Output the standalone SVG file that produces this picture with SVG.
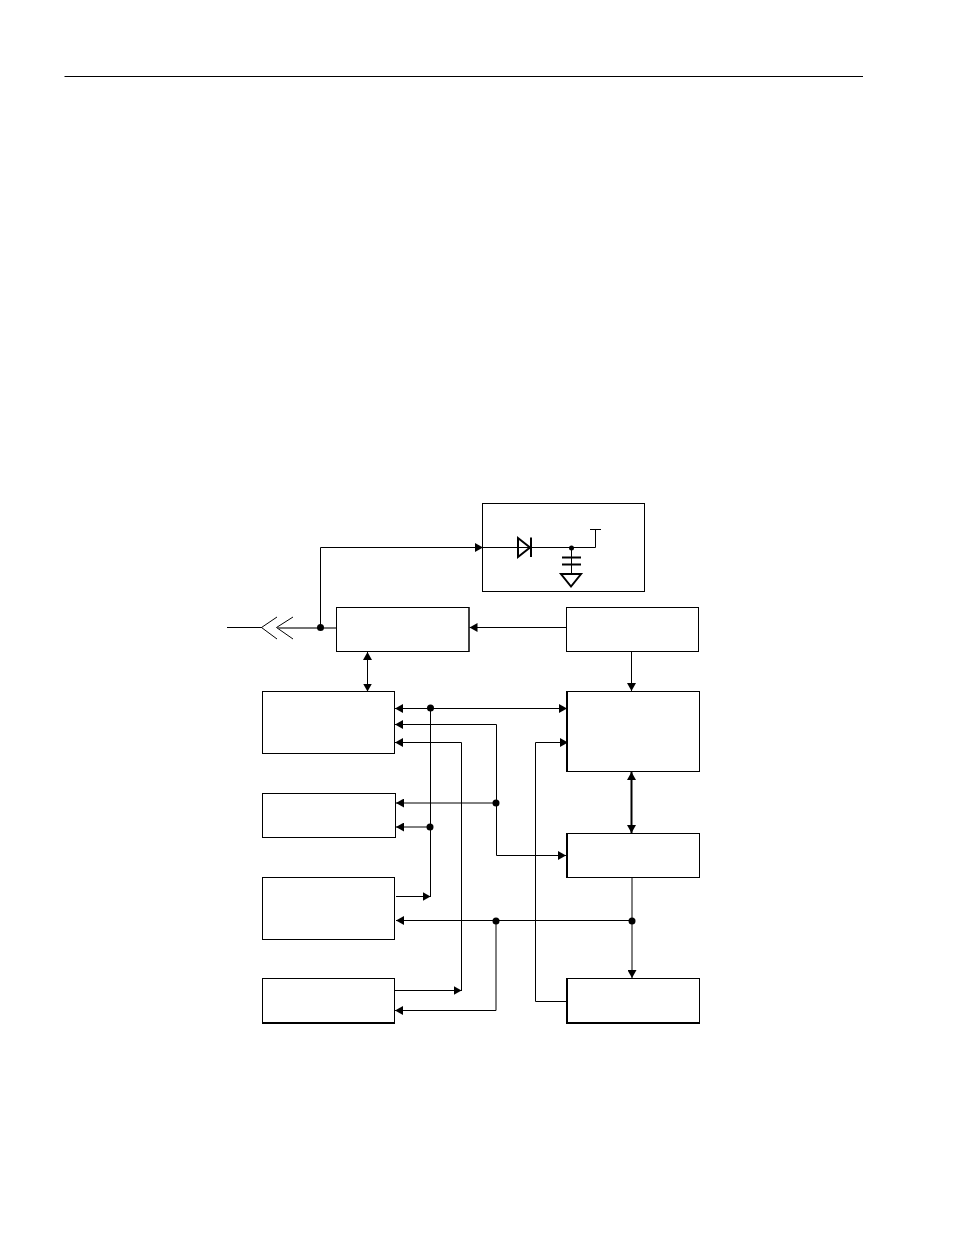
<svg xmlns="http://www.w3.org/2000/svg" width="954" height="1235" viewBox="0 0 954 1235">
<style>
.b{fill:#fff;stroke:#000;stroke-width:1}
.w{fill:none;stroke:#000;stroke-width:1}
.g{fill:none;stroke:#444;stroke-width:1.5}
.t{fill:none;stroke:#000;stroke-width:2}
.h{fill:none;stroke:#000;stroke-width:2}
.e{fill:none;stroke:#000;stroke-width:1;marker-end:url(#a)}
.d{fill:none;stroke:#000;stroke-width:1;marker-start:url(#a);marker-end:url(#a)}
.s{fill:none;stroke:#000;stroke-width:1;marker-start:url(#a)}
.j{fill:#000;stroke:none}
</style>
<defs>
<marker id="a" markerUnits="userSpaceOnUse" markerWidth="9" markerHeight="9" refX="8" refY="4.500" orient="auto-start-reverse"><path d="M0 0L8 4.500L0 9Z" fill="#000"/></marker>
</defs>
<rect width="954" height="1235" fill="#fff"/>
<path d="M64.500 76.500H863" stroke="#000" stroke-width="1" fill="none"/>
<g id="connectors">
<path class="w" d="M227 627.500H262"/>
<path class="w" d="M277 617L261.500 627.500L277 639"/>
<path class="w" d="M293 617L276.500 627.500L293 639"/>
<path class="g" d="M277 628H336"/>
<path class="e" d="M320.500 628V547.500H483"/>
<path class="e" d="M566 627.500H469.500"/>
<path class="d" d="M367.500 652V691.500"/>
<path class="e" d="M631.500 652V691"/>
<path class="d" d="M395 708.500H567"/>
<path class="e" d="M496.500 855.500V724.500H395"/>
<path class="s" d="M395 742.500H461.500V991"/>
<path class="e" d="M395 990.500H461.500"/>
<path class="e" d="M496.500 855.500H566"/>
<path class="e" d="M496.500 803H396"/>
<path class="e" d="M430.500 827H396"/>
<path class="w" d="M430.500 708V897"/>
<path class="e" d="M396 896.500H430.500"/>
<path class="e" d="M632 920.500H396"/>
<path class="e" d="M496 920.500V1010.500H395"/>
<path class="e" d="M566 1001.500H535.500V742.500H568"/>
<path class="e" d="M632 878V978"/>
<path d="M631.500 772V833" fill="none" stroke="#000" stroke-width="2" marker-start="url(#a)" marker-end="url(#a)"/>
<circle class="j" cx="320.500" cy="627.500" r="3.500"/>
<circle class="j" cx="430.500" cy="708" r="3.500"/>
<circle class="j" cx="496" cy="803" r="3.500"/>
<circle class="j" cx="430" cy="827" r="3.500"/>
<circle class="j" cx="496" cy="921" r="3.500"/>
<circle class="j" cx="632" cy="921" r="3.500"/>
</g>
<g id="node-protect">
<rect class="b" x="482.500" y="503.500" width="162" height="88"/>
<path class="w" d="M483 547.500H595.500V530"/>
<path class="w" d="M590 529.500H601"/>
<path class="t" d="M518 538V557L530 547.500ZM531 537.500V557"/>
<circle class="j" cx="571.500" cy="548" r="2.500"/>
<path class="w" d="M571.500 548V574"/>
<path class="h" d="M562 557.500H581M562 564.500H581"/>
<path class="t" d="M561 574H581L571 586.500Z"/>
</g>
<g id="node-driver"><rect class="b" x="336.500" y="607.500" width="132.500" height="44"/><path class="w" d="M469 607V652"/></g>
<g id="node-source"><rect class="b" x="566.500" y="607.500" width="132" height="44"/></g>
<g id="node-left1"><rect class="b" x="262.500" y="691.500" width="132" height="62"/></g>
<g id="node-left2"><rect class="b" x="262.500" y="793.500" width="133" height="44"/></g>
<g id="node-left3"><rect class="b" x="262.500" y="877.500" width="132" height="62"/></g>
<g id="node-left4"><rect class="b" x="262.500" y="978.500" width="132" height="44.500"/><path class="h" d="M262 1023H395"/></g>
<g id="node-right1"><rect class="b" x="566.500" y="691.500" width="133" height="80"/><path class="h" d="M567 691V772"/></g>
<g id="node-right2"><rect class="b" x="566.500" y="833.500" width="133" height="44"/><path class="h" d="M567 833V878"/></g>
<g id="node-right3"><rect class="b" x="566.500" y="978.500" width="133" height="44.500"/><path class="h" d="M567 978V1024M566 1023H700"/></g>
</svg>
